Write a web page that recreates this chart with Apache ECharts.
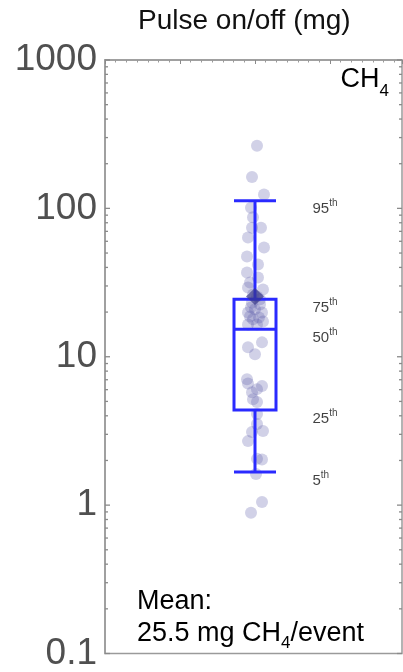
<!DOCTYPE html>
<html>
<head>
<meta charset="utf-8">
<script src="https://cdn.jsdelivr.net/npm/echarts@6/dist/echarts.min.js"></script>
<style>
  html, body { margin: 0; padding: 0; background: #fff; }
  #chart { width: 403px; height: 672px; }
</style>
</head>
<body>
<div id="chart"></div>
<script>
// y axis tick labels (log scale)
const yTickLabels = ['0.1', '1', '10', '100', '1000'];
// individual events: horizontal jitter and value (mg)
const pointOffsets = [2, -3, 9, -4, -2, 6, -3, -7, 9, -8, 3, -8, 3, -5, -7, 8, -2, 2,
  -3, 5, 5, 0, -4, -7, 7, -5, -2, 4, 8, -7, 2, 7, -7, 0, -8, -7, 7, -3, 2, -2,
  2, 2, 8, -3, -7, 2, 2, 7, 1, 7, -4];
const pointValues = [264, 163, 124, 101, 87, 74, 74, 63.6, 54.5, 47.4, 41.9, 37, 34.2, 31.7, 29.3, 28.4, 26.3, 25.5,
  23.2, 22.5, 24.4, 20.9, 21.5, 19.9, 19.9, 18.7, 17.9, 18.4, 17.3, 16.5, 16.5, 12.5, 11.6, 10.4, 7.06, 6.6, 6.34, 5.77, 6.05, 5.18,
  4.95, 4.11, 3.16, 3.11, 2.7, 3.52, 2.05, 2.03, 1.62, 1.05, 0.887];
// 5th, 25th, 50th, 75th, 95th percentiles
const pctNames = ['5', '25', '50', '75', '95'];
const pctValues = [1.67, 4.37, 15.3, 24.4, 112.7];
const meanValue = 25.5;

const minorTicks = [];
[0.1, 1, 10, 100].forEach(d => {
  for (let k = 1; k <= 9; k++) minorTicks.push(d * k);
});
minorTicks.push(1000);

const font = 'Liberation Sans, Arial, sans-serif';
const chart = echarts.init(document.getElementById('chart'));

const option = {
  animation: false,
  title: {
    text: 'Pulse on/off (mg)',
    left: 133,
    top: 2,
    textStyle: { fontFamily: font, fontSize: 28, fontWeight: 'normal', color: '#111' }
  },
  grid: {
    left: 105, right: 1, top: 60, bottom: 17,
    show: true, borderColor: '#9a9a9a', borderWidth: 1.5, backgroundColor: '#fff'
  },
  xAxis: {
    type: 'value',
    position: 'top',
    min: -150,
    max: 147,
    interval: 75,
    axisLine: { show: true, lineStyle: { color: '#9a9a9a', width: 1.5 } },
    axisTick: { show: true, inside: true, length: 4, lineStyle: { color: '#8a8a8a' } },
    minorTick: { show: true, splitNumber: 7, length: 2.5, lineStyle: { color: '#9a9a9a' } },
    axisLabel: { show: false },
    splitLine: { show: false }
  },
  yAxis: {
    type: 'log',
    logBase: 10,
    min: 0.1,
    max: 1000,
    axisLine: { show: true, onZero: false, lineStyle: { color: '#9a9a9a', width: 1.5 } },
    axisTick: { show: false },
    splitLine: { show: false },
    axisLabel: {
      margin: 8,
      fontFamily: font,
      fontSize: 37,
      color: '#505050',
      formatter: v => yTickLabels.find(t => Math.abs(parseFloat(t) - v) < v * 1e-6) || ''
    }
  },
  graphic: [
    {
      type: 'text', right: 14, top: 66,
      style: {
        text: '{n|CH}{s|4}',
        rich: {
          n: { fontFamily: font, fontSize: 27, color: '#111', lineHeight: 34, verticalAlign: 'top' },
          s: { fontFamily: font, fontSize: 17, color: '#111', lineHeight: 34, verticalAlign: 'bottom' }
        }
      }
    },
    {
      type: 'text', left: 137, top: 588,
      style: {
        text: '{n|Mean:}\n{n|25.5 mg CH}{s|4}{n|/event}',
        rich: {
          n: { fontFamily: font, fontSize: 27, color: '#111', lineHeight: 32, verticalAlign: 'top' },
          s: { fontFamily: font, fontSize: 17, color: '#111', lineHeight: 32, verticalAlign: 'bottom' }
        }
      }
    }
  ],
  series: [
    {
      // minor ticks of the log axis, left and right edges
      type: 'custom',
      silent: true,
      data: minorTicks.map(v => [v]),
      renderItem: (params, api) => {
        const v = api.value(0);
        const l = api.coord([-150, v]);
        const r = api.coord([147, v]);
        const len = [0.1, 1, 10, 100, 1000].indexOf(v) >= 0 ? 5 : 3;
        const style = { stroke: '#8a8a8a', lineWidth: 1.3 };
        return {
          type: 'group', children: [
            { type: 'line', shape: { x1: l[0], y1: l[1], x2: l[0] + len, y2: l[1] }, style },
            { type: 'line', shape: { x1: r[0], y1: r[1], x2: r[0] - len, y2: r[1] }, style }
          ]
        };
      },
      z: 1
    },
    {
      type: 'scatter',
      data: pointValues.map((v, i) => [pointOffsets[i], v]),
      symbolSize: 12,
      itemStyle: { color: 'rgba(90, 90, 170, 0.35)' },
      z: 2
    },
    {
      type: 'custom',
      data: [[0].concat(pctValues)],
      renderItem: (params, api) => {
        const x = api.value(0);
        const c = [1, 2, 3, 4, 5].map(i => api.coord([x, api.value(i)]));
        const cx = c[0][0];
        const h = 21;
        const style = { stroke: '#2a2aff', lineWidth: 3, fill: null };
        const ln = (x1, y1, x2, y2) => ({ type: 'line', shape: { x1, y1, x2, y2 }, style });
        return {
          type: 'group', children: [
            { type: 'rect', shape: { x: cx - h, y: c[3][1], width: 2 * h, height: c[1][1] - c[3][1] }, style },
            ln(cx - h, c[2][1], cx + h, c[2][1]),
            ln(cx, c[4][1], cx, c[3][1]),
            ln(cx, c[1][1], cx, c[0][1]),
            ln(cx - h, c[4][1], cx + h, c[4][1]),
            ln(cx - h, c[0][1], cx + h, c[0][1])
          ]
        };
      },
      z: 3
    },
    {
      type: 'scatter',
      data: [[0, meanValue]],
      symbol: 'diamond',
      symbolSize: [18, 17],
      itemStyle: { color: 'rgba(55, 55, 135, 0.85)' },
      z: 4
    },
    {
      type: 'scatter',
      data: pctValues.map((v, i) => ({ value: [57, v], name: pctNames[i] })),
      symbolSize: 1,
      itemStyle: { color: 'rgba(0,0,0,0)' },
      label: {
        show: true,
        position: 'right',
        distance: 0,
        offset: [0, 7],
        color: '#111',
        formatter: p => '{n|' + p.name + '}{s|th}',
        rich: {
          n: { fontFamily: font, fontSize: 15, color: '#111', lineHeight: 18, verticalAlign: 'bottom' },
          s: { fontFamily: font, fontSize: 10, color: '#111', lineHeight: 18, verticalAlign: 'top' }
        }
      },
      z: 5
    }
  ]
};

chart.setOption(option);
</script>
</body>
</html>
